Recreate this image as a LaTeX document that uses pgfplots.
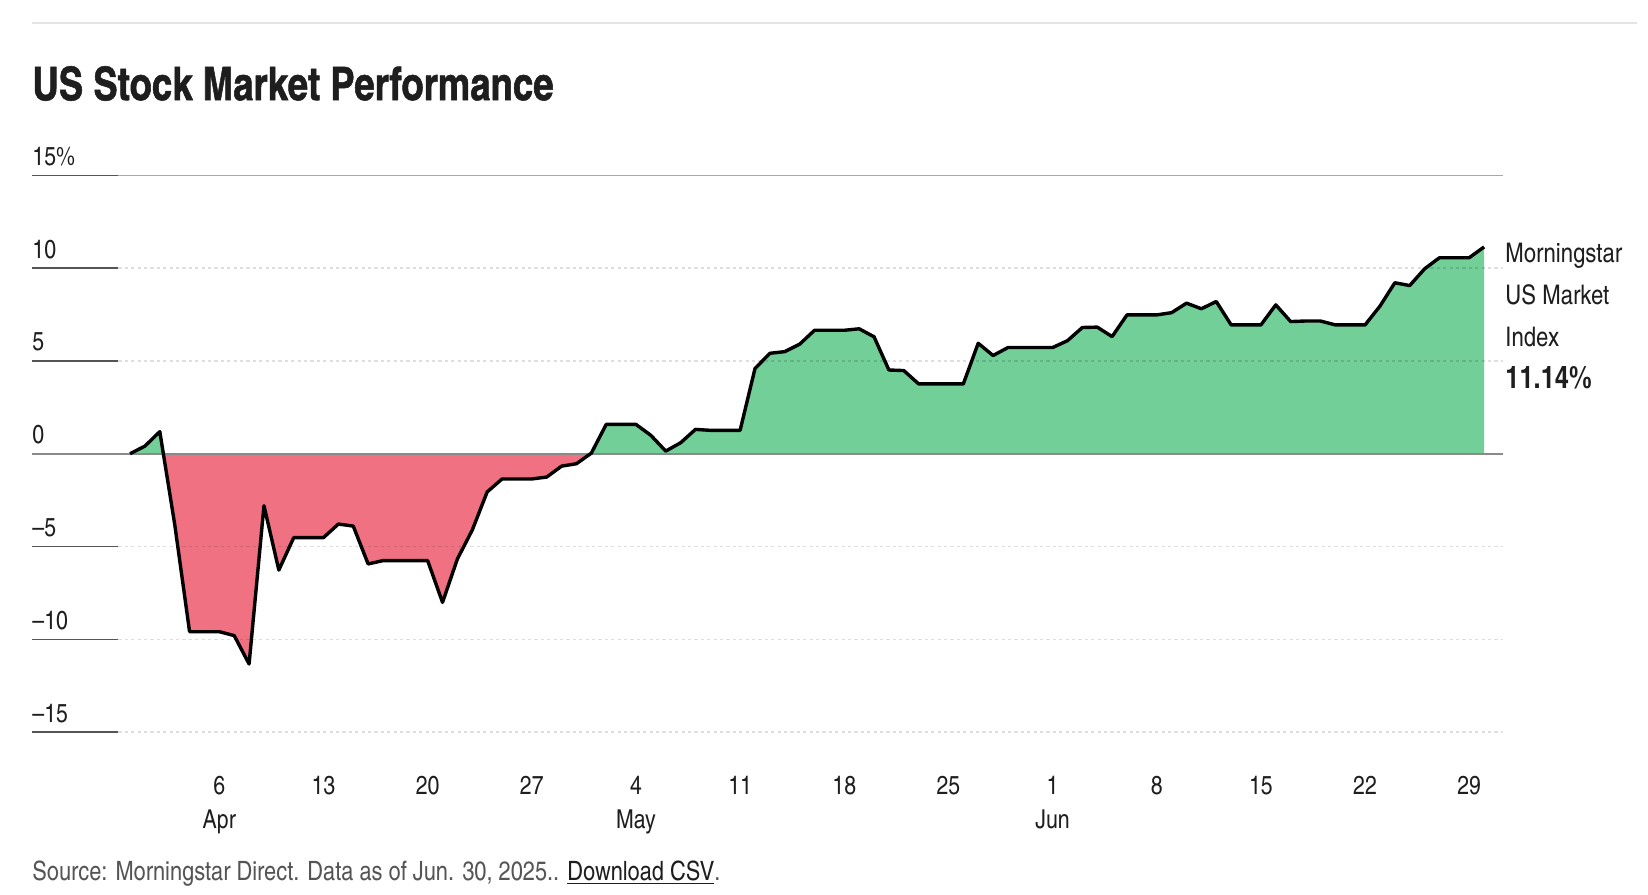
\documentclass[border=0pt]{standalone}
\usepackage{fontspec}
\setmainfont{texgyreheroscn}[Extension=.otf, UprightFont=*-regular, BoldFont=*-bold]
\newfontfamily\titlefont{texgyreheroscn-bold.otf}[FakeBold=1.2, FakeStretch=0.97]
\usepackage{pgfplots}
\usepackage{pgfplotstable}
\pgfplotsset{compat=1.18}

\definecolor{upgreen}{HTML}{72CF98}
\definecolor{downred}{HTML}{F07282}
\definecolor{tickdark}{HTML}{555555}
\definecolor{zerogray}{HTML}{8A8A8A}
\definecolor{topgray}{HTML}{A8A8A8}
\definecolor{rulegray}{HTML}{E3E3E3}
\definecolor{textdark}{HTML}{1E1E1E}
\definecolor{footgray}{HTML}{555555}

% day 0 = Mar 31 2025, cumulative return in %
\pgfplotstableread{
day ret
0 0
1 0.41
2 1.19
3 -3.80
4 -9.59
5 -9.59
6 -9.59
7 -9.80
8 -11.33
9 -2.80
10 -6.27
11 -4.52
12 -4.52
13 -4.52
14 -3.79
15 -3.90
16 -5.94
17 -5.76
18 -5.76
19 -5.76
20 -5.76
21 -8.01
22 -5.67
23 -4.11
24 -2.06
25 -1.36
26 -1.36
27 -1.36
28 -1.26
29 -0.67
30 -0.54
31 0.03
32 1.58
33 1.58
34 1.58
35 0.99
36 0.14
37 0.59
38 1.31
39 1.26
40 1.26
41 1.26
42 4.59
43 5.41
44 5.50
45 5.90
46 6.65
47 6.65
48 6.65
49 6.73
50 6.30
51 4.51
52 4.48
53 3.76
54 3.76
55 3.76
56 3.76
57 5.95
58 5.29
59 5.72
60 5.72
61 5.72
62 5.72
63 6.09
64 6.80
65 6.82
66 6.31
67 7.48
68 7.48
69 7.48
70 7.60
71 8.11
72 7.81
73 8.20
74 6.94
75 6.94
76 6.94
77 8.02
78 7.12
79 7.15
80 7.15
81 6.94
82 6.94
83 6.94
84 7.95
85 9.21
86 9.06
87 9.96
88 10.56
89 10.56
90 10.56
91 11.14
}\perf

\pgfplotsset{
  fillaxis/.style={
    scale only axis, width=735.5pt, height=139.2pt,
    xmin=-6.59, xmax=92.27, hide axis, anchor=south west,
  },
}

\begin{document}
\begin{tikzpicture}
\path[use as bounding box] (0pt,0pt) rectangle (824pt,-447pt);

\draw[rulegray, line width=1.2pt] (16pt,-11.5pt) -- (818.5pt,-11.5pt);
\node[anchor=base west, inner sep=0pt, text=textdark] at (16pt,-50pt)
  {\fontsize{23}{28}\selectfont\titlefont US Stock Market Performance};

% positive area, clipped to the upper half
\begin{axis}[fillaxis, at={(16pt,-226.85pt)}, ymin=0, ymax=15]
\addplot[fill=upgreen, draw=none] table[x=day, y=ret] {\perf}
  -- (axis cs:91,0) -- cycle;
\end{axis}

% negative area, clipped to the lower half
\begin{axis}[fillaxis, at={(16pt,-366.05pt)}, ymin=-15, ymax=0]
\addplot[fill=downred, draw=none] table[x=day, y=ret] {\perf}
  -- (axis cs:91,0) -- cycle;
\end{axis}

\begin{axis}[
    at={(16pt,-366.05pt)}, anchor=south west,
    scale only axis, width=735.5pt, height=278.4pt,
    xmin=-6.59, xmax=92.27, ymin=-15, ymax=15,
    axis line style={draw=none}, tick style={draw=none},
    clip=false,
    xtick={6,13,20,27,34,41,48,55,62,69,76,83,90},
    xticklabels={6,13,20,27,4,11,18,25,1,8,15,22,29},
    extra x ticks={6,34,62},
    extra x tick labels={Apr,May,Jun},
    extra x tick style={xticklabel style={yshift=-17pt}},
    xticklabel style={anchor=base, inner sep=0pt, yshift=-31pt,
      font=\fontsize{13}{15}\selectfont, text=textdark},
    ytick={-15,-10,-5,0,5,10,15},
    yticklabels={--15,--10,--5,0,5,10,15\%},
    yticklabel style={anchor=base west, inner sep=0pt, yshift=5pt,
      font=\fontsize{13}{15}\selectfont, text=textdark},
]
\pgfplotsinvokeforeach{-15,-10,-5,5,10}{
  \draw[black, opacity=0.13, line width=0.8pt, dash pattern=on 1.6pt off 1.6pt]
    (axis cs:-0.79,#1) -- (axis cs:92.27,#1);
  \draw[tickdark, line width=0.8pt] (axis cs:-6.59,#1) -- (axis cs:-0.79,#1);
}
\draw[topgray, line width=0.8pt] (axis cs:-0.79,15) -- (axis cs:92.27,15);
\draw[tickdark, line width=0.8pt] (axis cs:-6.59,15) -- (axis cs:-0.79,15);
\draw[zerogray, line width=0.9pt] (axis cs:-6.59,0) -- (axis cs:92.27,0);

\addplot[black, line width=1.7pt, line join=round, mark=none] table[x=day, y=ret] {\perf};
\end{axis}

\begin{scope}[every node/.style={anchor=base west, inner sep=0pt, text=textdark}]
\node at (752.5pt,-131pt) {\fontsize{13.5}{16}\selectfont Morningstar};
\node at (752.5pt,-152pt) {\fontsize{13.5}{16}\selectfont US Market};
\node at (752.5pt,-173pt) {\fontsize{13.5}{16}\selectfont Index};
\node at (752.5pt,-194pt) {\fontsize{15.5}{18}\selectfont\bfseries 11.14\%};
\end{scope}

\node[anchor=base west, inner sep=0pt, text=footgray] at (16pt,-440pt)
  {\fontsize{13.3}{16}\selectfont Source: Morningstar Direct. Data as of Jun. 30, 2025.. \textcolor{textdark}{\underline{Download CSV}}.};
\end{tikzpicture}
\end{document}
